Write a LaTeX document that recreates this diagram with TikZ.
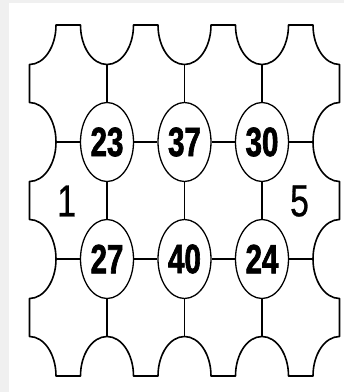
\documentclass[tikz,border=0pt]{standalone}
\usepackage{fontspec}
\usepackage{tikz}
\usetikzlibrary{shapes.geometric}
\newfontfamily\numfont[FakeStretch=0.72,FakeBold=1.6]{Liberation Sans}
\newfontfamily\sidefont[FakeStretch=0.75,FakeBold=0.6]{Liberation Sans}
\definecolor{framegray}{RGB}{240,240,240}
\tikzset{
  cell/.style={ellipse,draw,line width=1.3pt,minimum width=53pt,minimum height=79pt,inner sep=0pt,
    font=\numfont\bfseries\fontsize{41}{41}\selectfont},
  side/.style={font=\sidefont\fontsize{45}{45}\selectfont},
  link/.style={line width=1.1pt},
  rim/.style={line width=1.6pt,line join=round}
}
\begin{document}
\begin{tikzpicture}[x=1pt,y=1pt]
\fill[framegray] (0,0) rectangle (344,392);
\fill[white] (9,0) rectangle (344,389);
\useasboundingbox (0,0) rectangle (344,392);
% outer rim with the half bites
\draw[rim] (56,367) -- (80.5,367)
  arc[start angle=180,end angle=360,x radius=26.5,y radius=39.5] -- (158,367)
  arc[start angle=180,end angle=360,x radius=26.5,y radius=39.5] -- (235.5,367)
  arc[start angle=180,end angle=360,x radius=26.5,y radius=39.5] -- (313,367)
  arc[start angle=180,end angle=270,x radius=26.5,y radius=39.5] -- (339.5,289.5)
  arc[start angle=90,end angle=270,x radius=26.5,y radius=39.5] -- (339.5,172.5)
  arc[start angle=90,end angle=270,x radius=26.5,y radius=39.5] -- (339.5,55.5)
  arc[start angle=90,end angle=180,x radius=26.5,y radius=39.5] -- (288.5,16)
  arc[start angle=0,end angle=180,x radius=26.5,y radius=39.5] -- (211,16)
  arc[start angle=0,end angle=180,x radius=26.5,y radius=39.5] -- (133.5,16)
  arc[start angle=0,end angle=180,x radius=26.5,y radius=39.5] -- (56,16)
  arc[start angle=0,end angle=90,x radius=26.5,y radius=39.5] -- (29.5,93.5)
  arc[start angle=270,end angle=450,x radius=26.5,y radius=39.5] -- (29.5,210.5)
  arc[start angle=270,end angle=450,x radius=26.5,y radius=39.5] -- (29.5,327.5)
  arc[start angle=270,end angle=360,x radius=26.5,y radius=39.5] -- cycle;
% cells
\node[cell] (c23) at (107,250) {23};
\node[cell] (c37) at (184.5,250) {37};
\node[cell] (c30) at (262,250) {30};
\node[cell] (c27) at (107,133) {27};
\node[cell] (c40) at (184.5,133) {40};
\node[cell] (c24) at (262,133) {24};
\node[side] (one) at (66.7,191) {1};
\node[side] (five) at (299.5,191) {5};
% ends on the rim
\coordinate (top1) at (107,327.5);
\coordinate (top2) at (184.5,327.5);
\coordinate (top3) at (262,327.5);
\coordinate (bot1) at (107,55.5);
\coordinate (bot2) at (184.5,55.5);
\coordinate (bot3) at (262,55.5);
\coordinate (lft1) at (56,250);
\coordinate (lft2) at (56,133);
\coordinate (rgt1) at (313,250);
\coordinate (rgt2) at (313,133);
\draw[link] (lft1) -- (c23);
\draw[link] (c23) -- (c37);
\draw[link] (c37) -- (c30);
\draw[link] (c30) -- (rgt1);
\draw[link] (lft2) -- (c27);
\draw[link] (c27) -- (c40);
\draw[link] (c40) -- (c24);
\draw[link] (c24) -- (rgt2);
\draw[link] (top1) -- (c23);
\draw[link] (top2) -- (c37);
\draw[link] (top3) -- (c30);
\draw[link] (c23) -- (c27);
\draw[link] (c37) -- (c40);
\draw[link] (c30) -- (c24);
\draw[link] (c27) -- (bot1);
\draw[link] (c40) -- (bot2);
\draw[link] (c24) -- (bot3);
\end{tikzpicture}
\end{document}
